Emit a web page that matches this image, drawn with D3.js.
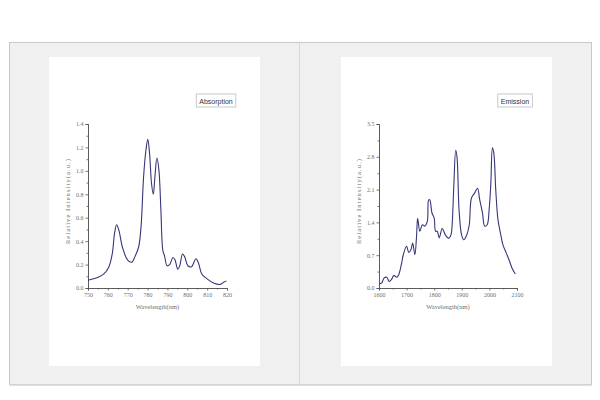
<!DOCTYPE html>
<html><head><meta charset="utf-8">
<script src="https://cdn.jsdelivr.net/npm/d3@7/dist/d3.min.js"></script>
<style>body{margin:0;background:#fff}svg{display:block}</style>
</head><body><svg id="c" width="600" height="400"></svg>
<script>
// ---- data ----
const absWavelength = [750,755.4,758,760.5,762.2,763.4,764.4,765.6,767.3,769.9,772,773.7,775.5,776.7,778,779.2,780.1,781,782,782.9,783.7,784.7,785.7,786.7,787.7,788.6,789.8,791.1,792.8,793.8,795.2,796.2,797.6,798.6,800.3,802,804.4,805.7,807.3,809.8,813.2,816.6,818.3,819.7];
const absIntensity = [0.066,0.094,0.12,0.18,0.29,0.47,0.54,0.49,0.35,0.24,0.22,0.27,0.35,0.52,0.95,1.18,1.27,1.15,0.89,0.80,0.95,1.11,1.01,0.67,0.32,0.27,0.19,0.20,0.26,0.24,0.16,0.19,0.29,0.27,0.19,0.18,0.25,0.21,0.12,0.08,0.043,0.031,0.05,0.06];
const emWavelength = [1600,1610,1618,1628,1637,1646,1654,1664,1671,1682,1688,1700,1708,1716,1722,1730,1736,1740,1748,1757,1766,1775,1780,1784,1792,1800,1805,1811,1818,1829,1840,1852,1861,1865,1871,1878,1883,1890,1899,1907,1917,1927,1935,1947,1957,1965,1975,1983,1992,1999,2005,2011,2016,2023,2031,2040,2049,2061,2073,2083,2094];
const emIntensity = [0.085,0.11,0.21,0.23,0.14,0.19,0.27,0.23,0.28,0.53,0.71,0.89,0.76,0.82,0.96,0.71,1.10,1.49,1.21,1.35,1.32,1.42,1.88,1.88,1.60,1.49,1.21,1.21,1.07,1.27,1.14,1.06,1.14,1.35,2.17,2.94,2.77,1.67,1.14,1.03,1.12,1.35,1.92,2.03,2.13,1.88,1.60,1.32,1.35,1.67,2.20,2.99,2.88,2.10,1.46,1.17,0.92,0.75,0.57,0.41,0.30];
const absXTicks = [750,760,770,780,790,800,810,820];
const absYTicks = [0.0,0.2,0.4,0.6,0.8,1.0,1.2,1.4];
const emXTicks = [1600,1700,1800,1900,2000,2100];
const emYTicks = [0.0,0.7,1.4,2.1,2.8,3.5];
const panelTitles = ["Absorption","Emission"];
const xAxisTitle = "Wavelength(nm)";
const yAxisTitle = "Relative Intensity(a.u.)";

const svg = d3.select("#c");
// outer frame
svg.append("rect").attr("x",9.5).attr("y",42.5).attr("width",582).attr("height",342)
  .attr("fill","#f0f0f0").attr("stroke","#c9c9c9");
svg.append("line").attr("x1",9.5).attr("x2",591.5).attr("y1",385).attr("y2",385).attr("stroke","#d6d6d6").attr("stroke-width",1.5);
svg.append("line").attr("x1",299.5).attr("x2",299.5).attr("y1",43).attr("y2",384).attr("stroke","#d9d9d9");

const fmt1 = d3.format(".1f");
function panel(cfg){
  const g = svg.append("g");
  g.append("rect").attr("x",cfg.px).attr("y",57).attr("width",211).attr("height",309).attr("fill","#fff");
  const x = d3.scaleLinear().domain(cfg.xd).range(cfg.xr);
  const y = d3.scaleLinear().domain(cfg.yd).range([288,124]);
  const ax = g.append("g").attr("transform",`translate(0,288)`)
    .call(d3.axisBottom(x).tickValues(cfg.xt).tickSize(2.5).tickPadding(2.5).tickFormat(d3.format("d")));
  const axm = g.append("g").attr("transform",`translate(0,288)`)
    .call(d3.axisBottom(x).tickValues(cfg.xm).tickSize(1.5).tickFormat(""));
  const ay = g.append("g").attr("transform",`translate(${cfg.xr[0]},0)`)
    .call(d3.axisLeft(y).tickValues(cfg.yt).tickSize(2.5).tickPadding(2).tickFormat(fmt1));
  const aym = g.append("g").attr("transform",`translate(${cfg.xr[0]},0)`)
    .call(d3.axisLeft(y).tickValues(cfg.ym).tickSize(1.5).tickFormat(""));
  [ax,axm,ay,aym].forEach(a=>{
    a.selectAll("path,line").attr("stroke","#555").attr("stroke-width",0.8);
    a.selectAll("text").attr("fill","#6f6f6f").attr("font-family","Liberation Serif, serif").attr("font-size",6);
  });
  g.append("text").attr("x",(cfg.xr[0]+cfg.xr[1])/2).attr("y",309).attr("text-anchor","middle")
    .attr("font-family","Liberation Serif, serif").attr("font-size",6.5).attr("fill","#6f6f6f").text(xAxisTitle);
  g.append("text").attr("transform",`translate(${cfg.xr[0]-18},201) rotate(-90)`).attr("text-anchor","middle")
    .attr("font-family","Liberation Serif, serif").attr("font-size",6.5).attr("letter-spacing",1.1).attr("fill","#6f6f6f").text(yAxisTitle);
  const line = d3.line().x(d=>x(d[0])).y(d=>y(d[1])).curve(d3.curveCatmullRom.alpha(0.5));
  g.append("path").datum(d3.zip(cfg.xs,cfg.ys)).attr("d",line).attr("fill","none")
    .attr("stroke","#36367a").attr("stroke-width",1.1);
  // legend box
  const lg = g.append("g");
  const t = lg.append("text").attr("x",cfg.lx).attr("y",104).attr("text-anchor","middle")
    .attr("font-family","Liberation Sans, Arial, sans-serif").attr("font-size",7).attr("fill","#333").text(cfg.title);
  const bb = t.node().getBBox();
  lg.insert("rect","text").attr("x",bb.x-3).attr("y",94).attr("width",bb.width+6).attr("height",13)
    .attr("fill","#fff").attr("stroke","#bbb").attr("stroke-width",0.8);
}
panel({px:49,xd:[750,820],xr:[88,227],yd:[0,1.4],xt:absXTicks,xm:d3.range(755,820,10),yt:absYTicks,ym:d3.range(0.1,1.4,0.2),xs:absWavelength,ys:absIntensity,title:panelTitles[0],lx:216});
panel({px:341,xd:[1600,2100],xr:[379,517],yd:[0,3.5],xt:emXTicks,xm:d3.range(1650,2100,100),yt:emYTicks,ym:d3.range(0.35,3.5,0.7),xs:emWavelength,ys:emIntensity,title:panelTitles[1],lx:515});
</script></body></html>
